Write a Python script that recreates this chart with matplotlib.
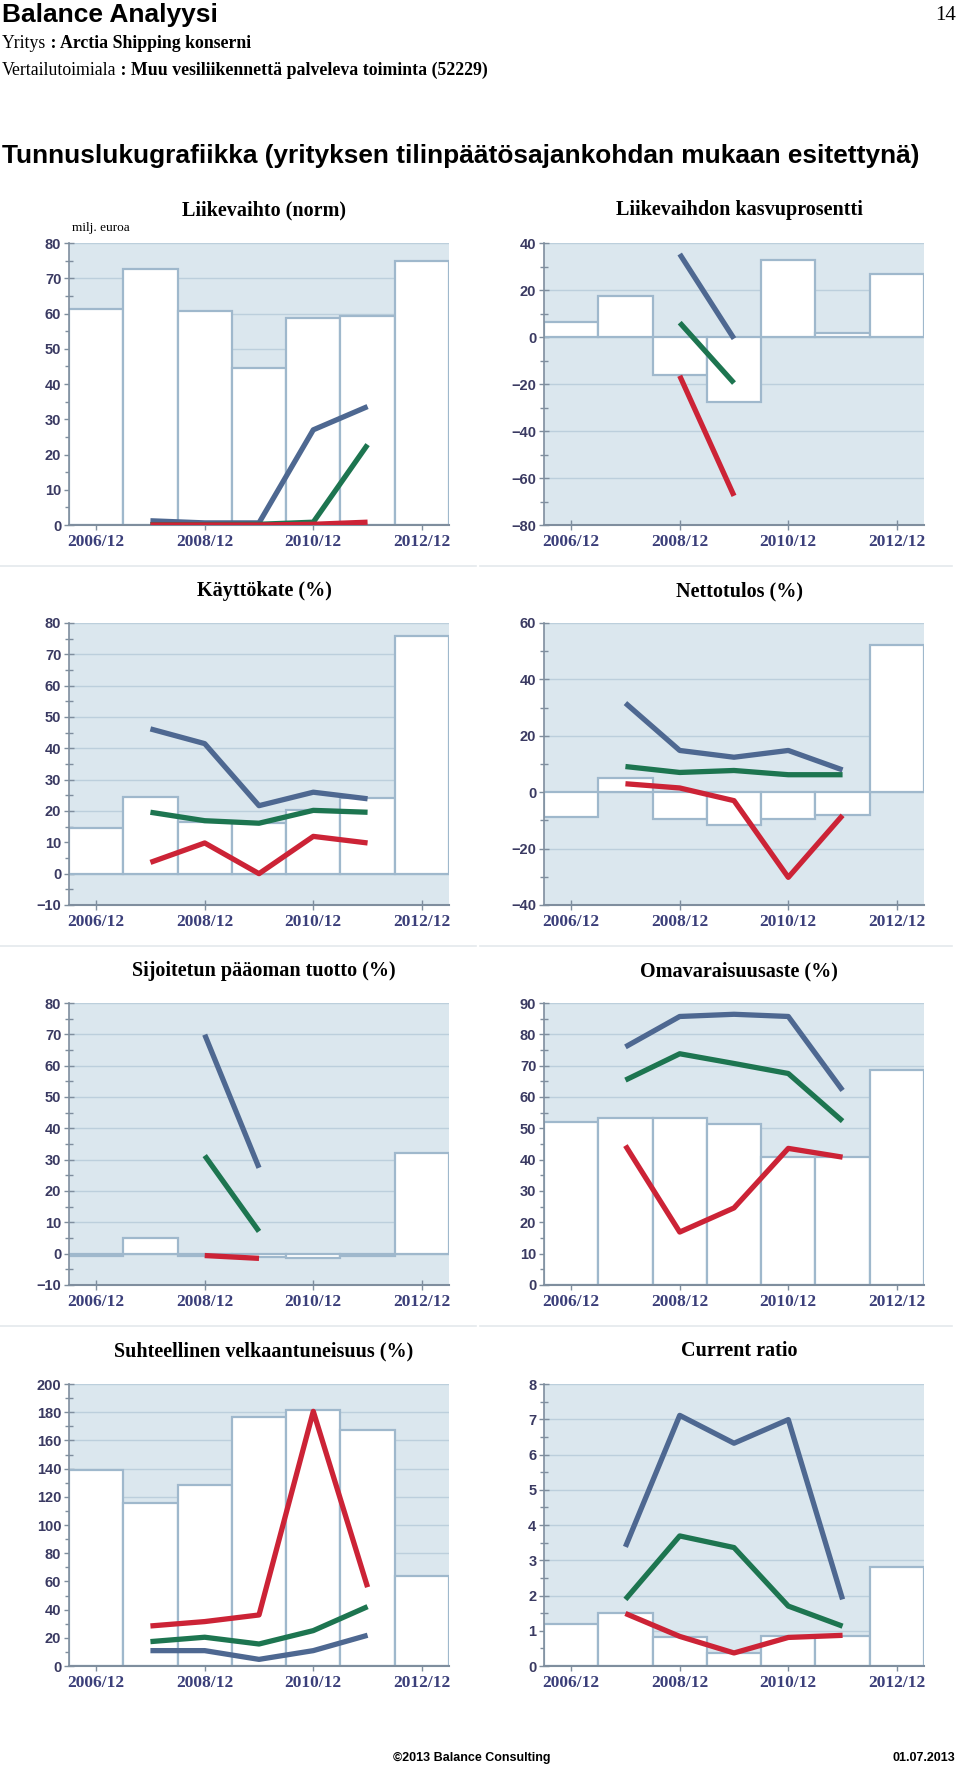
import numpy as np
import matplotlib.pyplot as plt
from matplotlib.ticker import MultipleLocator
from matplotlib.lines import Line2D

SERIF = 'Liberation Serif'
SANS = 'Liberation Sans'

periods = ['2006/12', '2007/12', '2008/12', '2009/12', '2010/12', '2011/12', '2012/12']
nan = np.nan

# Liikevaihto (norm), milj. euroa
lv_company = [61.2, 72.5, 60.6, 44.4, 58.7, 59.2, 75.0]
lv_blue = [nan, 1.2, 0.6, 0.6, 27.0, 33.6, nan]
lv_green = [nan, 0.1, 0.1, 0.2, 0.8, 22.8, nan]
lv_red = [nan, 0.0, 0.0, 0.0, 0.2, 0.8, nan]

# Liikevaihdon kasvuprosentti
kasvu_company = [6.3, 17.6, -16.1, -27.5, 32.6, 1.6, 26.9]
kasvu_blue = [nan, nan, 35.3, -0.7, nan, nan, nan]
kasvu_green = [nan, nan, 6.1, -19.6, nan, nan, nan]
kasvu_red = [nan, nan, -16.5, -67.6, nan, nan, nan]

# Käyttökate (%)
kk_company = [14.7, 24.5, 16.6, 16.3, 20.3, 24.0, 75.8]
kk_blue = [nan, 46.2, 41.5, 21.7, 26.0, 23.9, nan]
kk_green = [nan, 19.6, 16.9, 16.1, 20.2, 19.6, nan]
kk_red = [nan, 3.6, 9.8, 0.0, 11.9, 9.8, nan]

# Nettotulos (%)
nt_company = [-8.8, 5.2, -9.5, -11.8, -9.5, -8.0, 52.1]
nt_blue = [nan, 31.6, 14.8, 12.4, 14.8, 7.9, nan]
nt_green = [nan, 9.1, 7.0, 7.7, 6.2, 6.2, nan]
nt_red = [nan, 3.0, 1.5, -3.0, -30.2, -8.2, nan]

# Sijoitetun pääoman tuotto (%)
roi_company = [-0.6, 4.9, -0.6, -1.0, -1.4, -0.6, 32.2]
roi_blue = [nan, nan, 69.9, 27.4, nan, nan, nan]
roi_green = [nan, nan, 31.3, 7.1, nan, nan, nan]
roi_red = [nan, nan, -0.6, -1.5, nan, nan, nan]

# Omavaraisuusaste (%)
oma_company = [52.0, 53.4, 53.4, 51.3, 40.7, 40.7, 68.7]
oma_blue = [nan, 76.0, 85.7, 86.4, 85.7, 62.1, nan]
oma_green = [nan, 65.4, 73.8, 70.7, 67.5, 52.3, nan]
oma_red = [nan, 44.5, 16.9, 24.6, 43.6, 40.8, nan]

# Suhteellinen velkaantuneisuus (%)
velka_company = [138.7, 115.7, 128.3, 176.3, 181.3, 167.1, 63.9]
velka_blue = [nan, 10.9, 10.9, 4.7, 10.9, 21.8, nan]
velka_green = [nan, 17.3, 20.4, 15.6, 25.1, 42.1, nan]
velka_red = [nan, 28.4, 31.5, 36.2, 180.6, 55.9, nan]

# Current ratio
cr_company = [1.18, 1.49, 0.81, 0.37, 0.86, 0.86, 2.80]
cr_blue = [nan, 3.38, 7.11, 6.32, 6.99, 1.89, nan]
cr_green = [nan, 1.89, 3.69, 3.36, 1.70, 1.13, nan]
cr_red = [nan, 1.49, 0.84, 0.37, 0.81, 0.87, nan]

BG = '#dbe7ee'
GRID = '#bccfdc'
BAR_EDGE = '#9fb8cc'
AXIS = '#7f8e9e'
BLUE, GREEN, RED = '#4e6891', '#1d7550', '#cc2336'
TICK_TXT = '#3a3a62'
XTICK_TXT = '#3b3f7a'

W, H = 960, 1767
fig = plt.figure(figsize=(W / 100, H / 100), dpi=100)


def panel(col, row, title, company, blue, green, red, ylim, major, minor):
    left = 69 if col == 0 else 544
    top = [243, 623, 1003, 1384][row]
    ax = fig.add_axes([left / W, 1 - (top + 282) / H, 380 / W, 282 / H])
    ax.set_facecolor(BG)
    x = np.arange(len(periods))
    ax.set_axisbelow(True)
    ax.yaxis.grid(True, color=GRID, lw=1.0)
    ax.bar(x, company, width=1.0, color='white', edgecolor=BAR_EDGE, lw=1.6, zorder=2)
    for vals, c in ((blue, BLUE), (green, GREEN), (red, RED)):
        ax.plot(x, vals, color=c, lw=3.8, solid_capstyle='butt', zorder=3)
    ax.set_xlim(-0.5, 6.5)
    ax.set_ylim(*ylim)
    ax.yaxis.set_major_locator(MultipleLocator(major))
    ax.yaxis.set_minor_locator(MultipleLocator(minor))
    ax.set_xticks(x[::2])
    ax.set_xticklabels(periods[::2])
    for s in ('top', 'right'):
        ax.spines[s].set_visible(False)
    ax.spines['left'].set_color(AXIS)
    ax.spines['left'].set_linewidth(1.2)
    ax.spines['bottom'].set_color(AXIS)
    ax.spines['bottom'].set_linewidth(1.5)
    ax.tick_params(axis='y', which='major', direction='inout', length=7, width=1, color=AXIS,
                   pad=2, labelsize=10.5, labelcolor=TICK_TXT)
    ax.tick_params(axis='y', which='minor', direction='inout', length=6, width=1, color=AXIS)
    ax.tick_params(axis='x', direction='inout', length=7, width=1, color=AXIS, pad=3,
                   labelsize=12.5, labelcolor=XTICK_TXT)
    for t in ax.get_yticklabels():
        t.set_fontfamily(SANS)
        t.set_fontweight('bold')
    for t in ax.get_xticklabels():
        t.set_fontfamily(SERIF)
        t.set_fontweight('bold')
    fig.text((left + 195) / W, 1 - ([210, 591, 971, 1351][row]) / H, title, family=SERIF,
             weight='bold', fontsize=14.5, ha='center', va='center')
    return ax


ax1 = panel(0, 0, 'Liikevaihto (norm)', lv_company, lv_blue, lv_green, lv_red, (0, 80), 10, 5)
ax1.text(72 / W, 1 - 228 / H, 'milj. euroa', transform=fig.transFigure, family=SERIF,
         fontsize=9.5, va='center')
panel(1, 0, 'Liikevaihdon kasvuprosentti', kasvu_company, kasvu_blue, kasvu_green, kasvu_red,
      (-80, 40), 20, 10)
panel(0, 1, 'Käyttökate (%)', kk_company, kk_blue, kk_green, kk_red, (-10, 80), 10, 5)
panel(1, 1, 'Nettotulos (%)', nt_company, nt_blue, nt_green, nt_red, (-40, 60), 20, 10)
panel(0, 2, 'Sijoitetun pääoman tuotto (%)', roi_company, roi_blue, roi_green, roi_red,
      (-10, 80), 10, 5)
panel(1, 2, 'Omavaraisuusaste (%)', oma_company, oma_blue, oma_green, oma_red, (0, 90), 10, 5)
panel(0, 3, 'Suhteellinen velkaantuneisuus (%)', velka_company, velka_blue, velka_green,
      velka_red, (0, 200), 20, 10)
panel(1, 3, 'Current ratio', cr_company, cr_blue, cr_green, cr_red, (0, 8), 1, 0.5)

# faint separators between chart rows
for yy in (566, 946, 1326):
    fig.add_artist(Line2D([0, 476 / W], [1 - yy / H] * 2, color='#e4e9ec', lw=1.2))
    fig.add_artist(Line2D([480 / W, 952 / W], [1 - yy / H] * 2, color='#e4e9ec', lw=1.2))

# header
fig.text(2 / W, 1 - 15 / H, 'Balance Analyysi', family=SANS, weight='bold', fontsize=19, va='center')
fig.text(956 / W, 1 - 15 / H, '14', family=SERIF, fontsize=15, ha='right', va='center')

renderer = fig.canvas.get_renderer()
for yy, lead, rest in ((48, 'Yritys', ' : Arctia Shipping konserni'),
                       (75, 'Vertailutoimiala', ' : Muu vesiliikennettä palveleva toiminta (52229)')):
    t = fig.text(2 / W, 1 - yy / H, lead, family=SERIF, fontsize=12.8, va='baseline')
    bb = t.get_window_extent(renderer)
    fig.text(bb.x1 / W, 1 - yy / H, rest, family=SERIF, weight='bold', fontsize=12.8, va='baseline')

fig.text(2 / W, 1 - 156 / H, 'Tunnuslukugrafiikka (yrityksen tilinpäätösajankohdan mukaan esitettynä)',
         family=SANS, weight='bold', fontsize=18.9, va='center')

# footer
fig.text(393 / W, 1 - 1758 / H, '©2013 Balance Consulting', family=SANS, weight='bold', fontsize=9,
         va='center')
fig.text(955 / W, 1 - 1758 / H, '01.07.2013', family=SANS, weight='bold', fontsize=9,
         ha='right', va='center')

fig.savefig('out.png', dpi=100)
